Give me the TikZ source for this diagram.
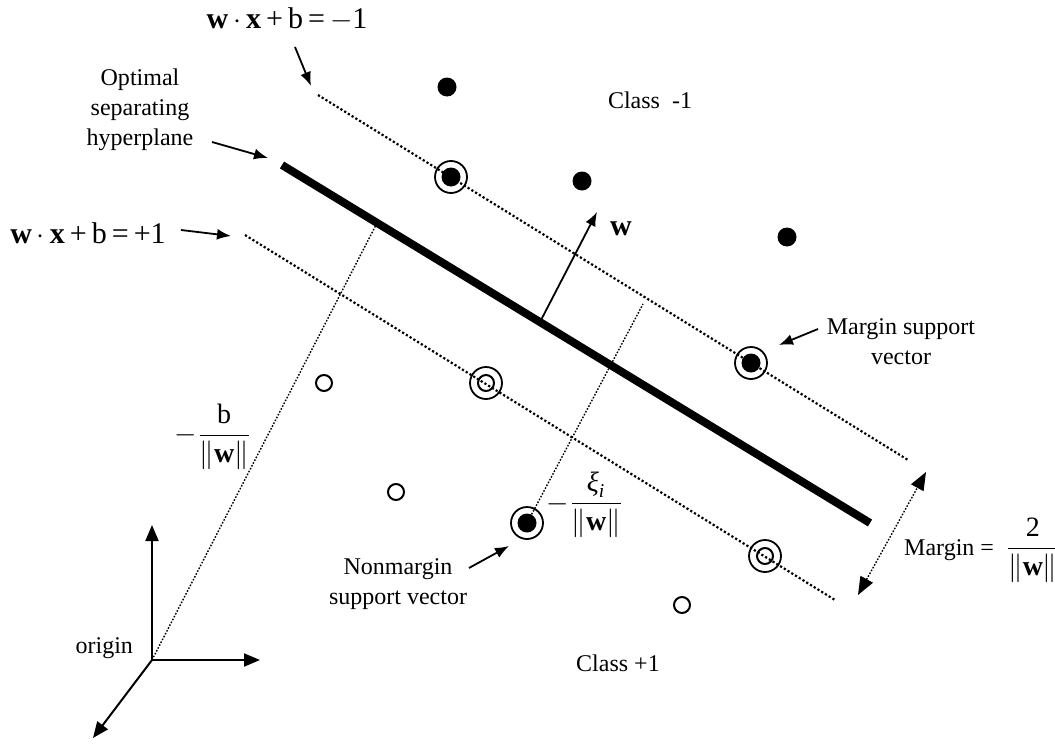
\documentclass[tikz,border=0pt]{standalone}
\usepackage{amsmath}
\usepackage{fontspec}
\setmainfont{Liberation Serif}
\usetikzlibrary{arrows.meta, positioning}

\begin{document}
\begin{tikzpicture}[x=0.5pt,y=-0.5pt,font=\fontsize{12}{15}\selectfont,
    fulldot/.style={circle,fill=black,inner sep=0pt,minimum size=9.5pt},
    opendot/.style={circle,draw=black,line width=1pt,inner sep=0pt,minimum size=8pt},
    ringdot/.style={circle,draw=black,line width=0.9pt,inner sep=0pt,minimum size=16pt},
    marginline/.style={line width=1.1pt,dash pattern=on 1.1pt off 1.1pt},
    thinline/.style={line width=0.7pt,dash pattern=on 0.8pt off 0.8pt},
    pointer/.style={-{Latex[length=7pt,width=5.5pt]},line width=0.9pt},
    axis/.style={-{Triangle[length=8pt,width=6.5pt]},line width=1pt},
    eqlbl/.style={font=\fontsize{15}{18}\selectfont},
    fraclbl/.style={font=\fontsize{14}{17}\selectfont,inner sep=0pt}]
  \useasboundingbox (0,0) rectangle (1055,744);

  % hyperplane and margins
  \coordinate (h1) at (282,165);
  \coordinate (h2) at (870,523);
  \coordinate (m1a) at (318,95);
  \coordinate (m1b) at (908,460);
  \coordinate (m2a) at (245,235);
  \coordinate (m2b) at (835,600);
  \draw[marginline] (m1a) -- (m1b);
  \draw[marginline] (m2a) -- (m2b);
  \draw[line width=4pt] (h1) -- (h2);

  % class -1 points
  \node[fulldot] (n1) at (447,87) {};
  \node[fulldot] (n2) at (582,181) {};
  \node[fulldot] (n3) at (787,237) {};
  \node[fulldot] (sv1) at (451,177) {};
  \node[ringdot] at (sv1) {};
  \node[fulldot] (sv2) at (751,363) {};
  \node[ringdot] at (sv2) {};
  \node[fulldot] (nm) at (527,523) {};
  \node[ringdot] at (nm) {};

  % class +1 points
  \node[opendot] (o1) at (324,383) {};
  \node[opendot] (o2) at (396,492) {};
  \node[opendot] (o3) at (682,605) {};
  \node[opendot] (sv3) at (486,383) {};
  \node[ringdot] at (sv3) {};
  \node[opendot] (sv4) at (765,556) {};
  \node[ringdot] at (sv4) {};

  % normal vector
  \coordinate (wb) at (540,322);
  \coordinate (wt) at (597,212);
  \draw[pointer] (wb) -- (wt);
  \node[eqlbl] (wlbl) at (621,229) {\textbf{w}};

  % origin and axes
  \coordinate (org) at (152,660);
  \coordinate (ax1) at (152,525);
  \coordinate (ax2) at (260,660);
  \coordinate (ax3) at (93,738);
  \draw[axis] (org) -- (ax1);
  \draw[axis] (org) -- (ax2);
  \draw[axis] (org) -- (ax3);
  \node[left=6pt of org,yshift=6pt] (olbl) {origin};

  % distances
  \coordinate (hp) at (377,223);
  \draw[thinline] (org) -- (hp);
  \coordinate (xi) at (643,304);
  \draw[thinline] (nm) -- (xi);
  \coordinate (mg1) at (858,595);
  \coordinate (mg2) at (926,472);
  \draw[thinline,{Triangle[length=9pt,width=7pt]}-{Triangle[length=9pt,width=7pt]}] (mg1) -- (mg2);

  % labels
  \node[eqlbl] (eqm) at (287,19) {\textbf{w}\,$\cdot$\,\textbf{x}\,+\,b\,=\,$-$1};
  \coordinate (eqma) at (295,47);
  \coordinate (eqmb) at (311,86);
  \draw[pointer] (eqma) -- (eqmb);

  \node[align=center] (hplbl) at (140,110) {Optimal\\separating\\hyperplane};
  \coordinate (hpa) at (212,142);
  \coordinate (hpb) at (268,158);
  \draw[pointer] (hpa) -- (hpb);

  \node[eqlbl] (eqp) at (88,233) {\textbf{w}\,$\cdot$\,\textbf{x}\,+\,b\,=\,+1};
  \coordinate (eqpa) at (181,230);
  \coordinate (eqpb) at (231,236);
  \draw[pointer] (eqpa) -- (eqpb);

  \node[align=center] (msv) at (901,342) {Margin support\\vector};
  \coordinate (msva) at (818,329);
  \coordinate (msvb) at (779,345);
  \draw[pointer] (msva) -- (msvb);

  \node[align=center] (nmsv) at (398,584) {Nonmargin\\support vector};
  \coordinate (nmsva) at (469,568);
  \coordinate (nmsvb) at (509,546);
  \draw[pointer] (nmsva) -- (nmsvb);

  \node[fraclbl] (blbl) at (213,437) {$-\dfrac{\text{b}}{\|\textbf{w}\|}$};
  \node[fraclbl] (xilbl) at (585,505) {$-\dfrac{\textit{ξ}_{\textit{i}}}{\|\textbf{w}\|}$};
  \node (mglbl) at (982,550) {Margin =\ \ {\fontsize{14}{17}\selectfont$\dfrac{\text{2}}{\|\textbf{w}\|}$}};

  \node (c1) at (650,100) {Class\ \ -1};
  \node (c2) at (618,663) {Class\ +1};
\end{tikzpicture}
\end{document}
